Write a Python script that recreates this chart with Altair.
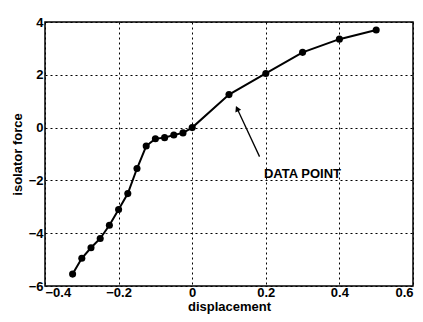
import altair as alt
import pandas as pd

# data
disp = [-0.325, -0.3, -0.275, -0.25, -0.225, -0.2, -0.175, -0.15, -0.125, -0.1,
        -0.075, -0.05, -0.025, 0.0, 0.1, 0.2, 0.3, 0.4, 0.5]
force = [-5.55, -4.95, -4.55, -4.2, -3.7, -3.1, -2.5, -1.55, -0.7, -0.42,
         -0.38, -0.28, -0.2, 0.0, 1.25, 2.05, 2.85, 3.35, 3.7]
x_ticks = [-0.4, -0.2, 0, 0.2, 0.4, 0.6]
y_ticks = [-6, -4, -2, 0, 2, 4]

# annotation
arrow_tail = (0.183, -1.1)
arrow_tip = (0.122, 0.72)
label_text = "DATA POINT"
label_pos = (0.195, -1.75)

df = pd.DataFrame({"disp": disp, "force": force})
FONT = "Liberation Sans"
FS = 13

xs = alt.Scale(domain=[-0.4, 0.6], nice=False, zero=False)
ys = alt.Scale(domain=[-6, 4], nice=False, zero=False)

xenc = alt.X("disp:Q", scale=xs, axis=alt.Axis(
    values=x_ticks, format=".1~f", title="displacement", grid=True,
    gridColor="black", gridDash=[2, 3], gridOpacity=1, gridWidth=1,
    ticks=False, domain=False, labelFont=FONT, labelFontWeight="bold",
    labelFontSize=FS, labelColor="black", labelPadding=0,
    titleFont=FONT, titleFontWeight="bold", titleFontSize=FS,
    titleColor="black", titlePadding=1))
yenc = alt.Y("force:Q", scale=ys, axis=alt.Axis(
    values=y_ticks, format="d", title="isolator force", grid=True,
    gridColor="black", gridDash=[2, 3], gridOpacity=1, gridWidth=1,
    ticks=False, domain=False, labelFont=FONT, labelFontWeight="bold",
    labelFontSize=FS, labelColor="black", labelPadding=2,
    titleFont=FONT, titleFontWeight="bold", titleFontSize=FS,
    titleColor="black", titlePadding=4))

line = alt.Chart(df).mark_line(color="black", strokeWidth=2).encode(x=xenc, y=yenc)
pts = alt.Chart(df).mark_circle(color="black", size=50, opacity=1).encode(x="disp:Q", y="force:Q")

adf = pd.DataFrame({"x": [arrow_tail[0]], "y": [arrow_tail[1]],
                    "x2": [arrow_tip[0]], "y2": [arrow_tip[1]]})
arrow = alt.Chart(adf).mark_rule(color="black", strokeWidth=1.3).encode(
    x="x:Q", y="y:Q", x2="x2:Q", y2="y2:Q")
head = alt.Chart(pd.DataFrame({"x": [arrow_tip[0]], "y": [arrow_tip[1]]})).mark_point(
    shape="triangle-up", filled=True, color="black", size=40, angle=335, opacity=1
).encode(x="x:Q", y="y:Q")
tdf = pd.DataFrame({"x": [label_pos[0]], "y": [label_pos[1]], "t": [label_text]})
text = alt.Chart(tdf).mark_text(align="left", baseline="middle", font=FONT,
                                fontWeight="bold", fontSize=FS, color="black").encode(
    x="x:Q", y="y:Q", text="t:N")

chart = alt.layer(line, pts, arrow, head, text).properties(
    width=368, height=264,
    autosize=alt.AutoSizeParams(type="none"),
    padding={"left": 37, "top": 14, "right": 2, "bottom": 28},
    background="white",
).configure_view(stroke="black", strokeWidth=1.5)

chart.save("out.html", embed_options={"renderer": "svg", "actions": False})
